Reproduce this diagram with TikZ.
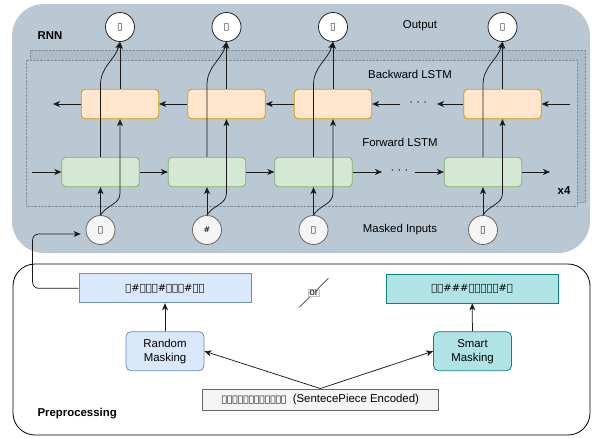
\documentclass[tikz,border=0pt]{standalone}
\usepackage{fontspec}
\setmainfont{Liberation Sans}
\newfontfamily\copt{DejaVu Sans}
\usetikzlibrary{arrows.meta,positioning,calc}

\definecolor{rnnfill}{HTML}{BAC8D3}
\definecolor{stackfill}{HTML}{AEBCC7}
\definecolor{dotline}{HTML}{7F8F9E}
\definecolor{fwfill}{HTML}{D5E8D4}
\definecolor{fwline}{HTML}{82B366}
\definecolor{bwfill}{HTML}{FFE6CC}
\definecolor{bwline}{HTML}{D79B00}
\definecolor{rndfill}{HTML}{DAE8FC}
\definecolor{rndline}{HTML}{6C8EBF}
\definecolor{smtfill}{HTML}{B0E3E6}
\definecolor{smtline}{HTML}{0E8088}
\definecolor{srcfill}{HTML}{F5F5F5}
\definecolor{srcline}{HTML}{666666}
\definecolor{wire}{HTML}{1A1A1A}

\tikzset{
  lbl/.style={font=\fontsize{11.4}{14}\selectfont},
  lblb/.style={font=\bfseries\fontsize{11.4}{14}\selectfont},
  arr/.style={draw=wire,line width=0.75pt,-{Stealth[length=7pt,width=6pt,inset=2pt]}},
  cell/.style={rounded corners=4pt,line width=0.8pt,minimum width=77.5pt,minimum height=29.5pt,inner sep=0pt},
  fwcell/.style={cell,fill=fwfill,draw=fwline},
  bwcell/.style={cell,fill=bwfill,draw=bwline},
  tok/.style={circle,minimum size=29pt,inner sep=0pt,line width=0.8pt,font=\copt\fontsize{8}{9}\selectfont},
  outtok/.style={tok,fill=white,draw=black!85},
  intok/.style={tok,fill=srcfill,draw=srcline},
  seqbox/.style={minimum width=172pt,minimum height=29pt,inner sep=0pt,line width=0.8pt,font=\copt\fontsize{10}{12}\selectfont},
  maskbox/.style={rounded corners=5pt,minimum width=78pt,minimum height=39pt,inner sep=0pt,line width=0.8pt,align=center,lbl},
  srcbox/.style={minimum width=236pt,minimum height=21.7pt,inner sep=0pt,line width=0.8pt,fill=srcfill,draw=srcline,lbl}
}

\begin{document}
\begin{tikzpicture}[x=1pt,y=1pt]
\useasboundingbox (0,0) rectangle (593,437);
% RNN part
\fill[rnnfill,rounded corners=32pt] (12,184) rectangle (590,433);
\draw[dotline,densely dotted,fill=stackfill] (30,235) rectangle (585,387);
\draw[dotline,densely dotted,fill=rnnfill] (26,231) rectangle (577,377);
\node[lblb] (rnn) at (50,401) {RNN};
\node[lblb] (rep) at (564,246) {x4};
\node[lbl] (outlbl) at (420,411) {Output};
\node[lbl] (bwlbl) at (410,363) {Backward LSTM};
\node[lbl] (fwlbl) at (400,294.3) {Forward LSTM};
\node[lbl] (inlbl) at (400,207.7) {Masked Inputs};

\foreach \x/\a/\b [count=\i] in {100.5/ⲧ/ⲧ,207/\#/ⲁ,313.5/ⲓ/ⲓ,483/ⲁ/ⲁ}{
  \node[fwcell] (g\i) at (\x,265) {};
  \node[bwcell] (b\i) at ({\x+19.5},333) {};
  \node[intok] (i\i) at (\x,207) {\a};
  \node[outtok] (o\i) at ({\x+19.5},410) {\b};
}

\node[lbl] (fdots) at (399.5,265) {· · ·};
\node[lbl] (bdots) at (418.3,333) {· · ·};
\coordinate (fin) at (32,265);
\coordinate (fout) at (550,265);
\coordinate (fgapL) at (382,265);
\coordinate (fgapR) at (415,265);
\coordinate (bout) at (53,333);
\coordinate (bin) at (570,333);
\coordinate (bgapL) at (400,333);
\coordinate (bgapR) at (437,333);

% forward and backward chains
\draw[arr] (fin) -- (g1.west);
\draw[arr] (g1) -- (g2);
\draw[arr] (g2) -- (g3);
\draw[arr] (g3) -- (fgapL);
\draw[arr] (fgapR) -- (g4.west);
\draw[arr] (g4) -- (fout);
\draw[arr] (b1) -- (bout);
\draw[arr] (b2) -- (b1);
\draw[arr] (b3) -- (b2);
\draw[arr] (bgapL) -- (b3.east);
\draw[arr] (b4) -- (bgapR);
\draw[arr] (bin) -- (b4.east);

% inputs up to the cells, cells up to the outputs
\foreach \i in {1,...,4}{
  \draw[arr] (i\i.north) -- (g\i.south);
  \draw[arr] (i\i.north) to[out=60,in=-90] ++(19.5,22) -- (b\i.south);
  \draw[arr] (b\i.north) -- (o\i.south);
  \draw[arr] (g\i.north) -- ++(0,72) to[out=90,in=-105] (o\i.south);
}

% Preprocessing part
\draw[line width=0.8pt,rounded corners=22pt] (13,2) rectangle (590,173);
\node[lblb,anchor=west] (pre) at (34,23) {Preprocessing};
\node[seqbox,fill=rndfill,draw=rndline] (rb) at (165,148.7) {ⲧ\#ⲓⲇⲉ\#ⲧⲉⲣ\#ⲛⲁ};
\node[seqbox,fill=smtfill,draw=smtline] (sb) at (472.2,148.5) {ⲧⲁ\#\#\#ⲩⲧⲉⲣⲓ\#ⲁ};
\node[maskbox,fill=rndfill,draw=rndline] (rm) at (165,85.8) {Random\\Masking};
\node[maskbox,fill=smtfill,draw=smtline] (sm) at (472.5,85.8) {Smart\\Masking};
\node[srcbox] (src) at (320.3,37.2) {{\copt\fontsize{9}{11}\selectfont ⲧⲁⲓⲇⲉⲩⲧⲉⲣⲓⲛⲁ}\ \ (SentecePiece Encoded)};

\draw[arr] (src.north) -- (rm.east);
\draw[arr] (src.north) -- (sm.west);
\draw[arr] (rm) -- (rb);
\draw[arr] (sm) -- (sb);
\draw[arr,rounded corners=6pt] (rb.west) -- ++(-46,0) |- ([shift={(-5,-4)}]i1.west);

% "or" mark
\coordinate (or1) at (299.3,129.7);
\coordinate (or2) at (328.3,158.7);
\draw[draw=black!75,line width=0.7pt] (or1) -- (or2)
  node[midway,fill=white,draw=black!25,line width=0.4pt,inner sep=1pt,font=\fontsize{10}{11}\selectfont] (orlbl) {or};
\end{tikzpicture}
\end{document}
